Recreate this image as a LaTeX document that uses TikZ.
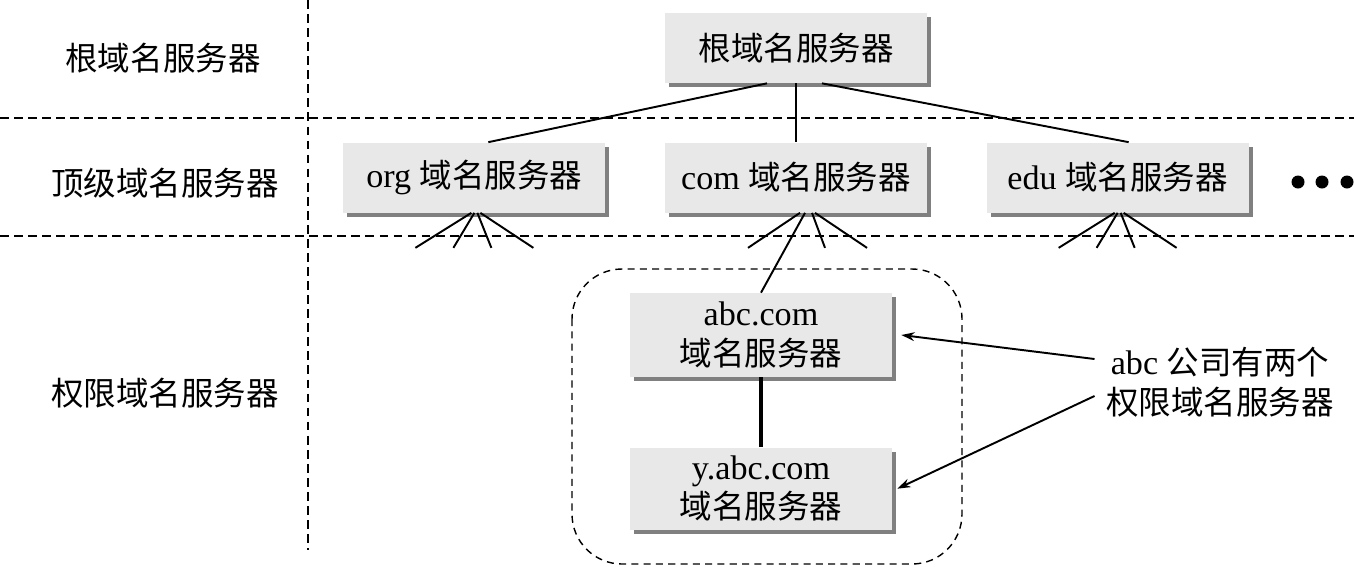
\documentclass[tikz,border=0pt]{standalone}
\usepackage{fontspec}
\setmainfont[Scale=1.05]{Liberation Serif}
\newfontfamily\cjk{Noto Sans CJK SC}
\usetikzlibrary{positioning,shadows,arrows.meta}
\newcommand{\zh}[1]{{\cjk #1}}
\definecolor{boxgray}{RGB}{232,232,232}
\definecolor{shadowgray}{RGB}{128,128,128}
\tikzset{
	srv/.style = {fill=boxgray, minimum width=5.24cm, minimum height=1.4cm, inner sep=0pt, align=center,
	 drop shadow={shadow xshift=0.08cm, shadow yshift=-0.08cm, fill=shadowgray, opacity=1}}}
\tikzset{
	level/.style = {line width=1.3pt, dash pattern=on 5pt off 3pt},
	link/.style = {line width=1.1pt},
	pointer/.style = {line width=1.1pt, -{Stealth[length=7.5pt, width=5pt]}}}

\begin{document}
\begin{tikzpicture}[x=0.02cm, y=-0.02cm, node font=\fontsize{18.5}{22.5}\selectfont]
\useasboundingbox (0,0) rectangle (1354,566);

% LEVELS
\draw [level] (0,118) -- (1354,118);
\draw [level] (0,236) -- (1354,236);
\draw [level] (308,0) -- (308,550);
\node (lroot) at (163,58) {\zh{根域名服务器}};
\node (ltop) at (165,183) {\zh{顶级域名服务器}};
\node (lauth) at (165,393) {\zh{权限域名服务器}};

% NODES
\node (root) [srv] at (796,48) {\zh{根域名服务器}};
\node (com) [srv] at (796,177.5) {com \zh{域名服务器}};
\node (org) [srv, left=1.18cm of com] {org \zh{域名服务器}};
\node (edu) [srv, right=1.18cm of com] {edu \zh{域名服务器}};
\foreach \x in {1298,1322,1347}
	\fill (\x,182) circle (0.13cm);
\draw [dashed, line width=0.8pt, dash pattern=on 4pt off 3pt, rounded corners=1cm] (572,269) rectangle (962,564);
\node (abc) [srv, minimum height=1.68cm] at (761,335) {abc.com\\\zh{域名服务器}};
\node (yabc) [srv, minimum height=1.64cm, below=1.4cm of abc] {y.abc.com\\\zh{域名服务器}};
\node (note) [align=center] at (1220,382) {abc \zh{公司有两个}\\\zh{权限域名服务器}};

%CONNECTIONS
\draw [link] ([xshift=-29*0.02cm]root.south) -- ([xshift=14*0.02cm]org.north);
\draw [link] (root.south) -- (com.north);
\draw [link] ([xshift=26*0.02cm]root.south) -- ([xshift=11*0.02cm]edu.north);
\foreach \s/\e in {-3/-56, 0/-21, 3/14, 6/53} {
	\draw [link] ([xshift=\s*0.02cm]org.south) -- ++(\e,35);
	\draw [link] ([xshift=\s*0.02cm]edu.south) -- ++(\e,35);}
\foreach \s/\e in {4/-52, 16/13, 19/52}
	\draw [link] ([xshift=\s*0.02cm]com.south) -- ++(\e,35);
\draw [link] ([xshift=9*0.02cm]com.south) -- (abc.north);
\draw [line width=2pt] (abc) -- (yabc);
\draw [pointer] ([yshift=0.46cm]note.west) -- ([xshift=0.18cm]abc.east);
\draw [pointer] ([yshift=-0.28cm]note.west) -- ([xshift=0.1cm]yabc.east);

\end{tikzpicture}
\end{document}
